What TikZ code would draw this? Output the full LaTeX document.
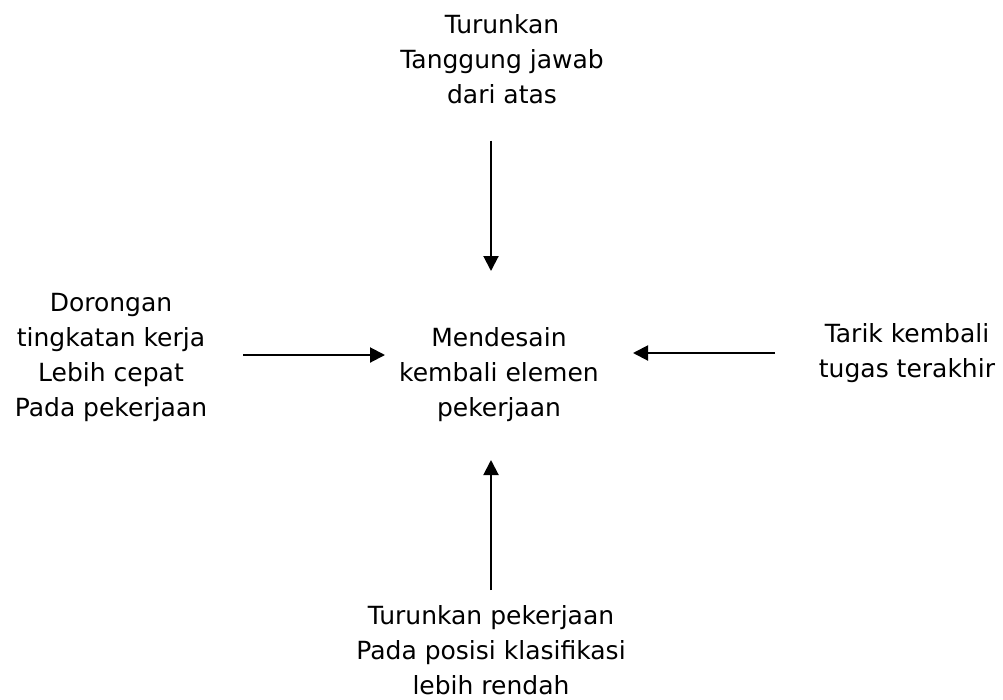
\documentclass[tikz,border=0pt]{standalone}
\usepackage{fontspec}
\usetikzlibrary{arrows.meta}
\newfontfamily\tahfont{DejaVu Sans}
\tikzset{
  lbl/.style={anchor=base, align=center, inner sep=0pt,
    font=\tahfont\fontsize{25pt}{35pt}\selectfont},
  arr/.style={line width=2pt, -{Triangle[length=15pt,width=15pt]}}
}
\begin{document}
\begin{tikzpicture}[x=1pt,y=-1pt]
\useasboundingbox (0,0) rectangle (1003,699);
\node[lbl] (top) at (502,103) {Turunkan\\Tanggung jawab\\dari atas};
\node[lbl] (left) at (111,416) {Dorongan\\tingkatan kerja\\Lebih cepat\\Pada pekerjaan};
\node[lbl] (center) at (499,416) {Mendesain\\kembali elemen\\pekerjaan};
\node[lbl] (right) at (907,377) {Tarik kembali\\tugas terakhir};
\node[lbl] (bottom) at (491,694) {Turunkan pekerjaan\\Pada posisi klasifikasi\\lebih rendah};
\coordinate (tA) at (491,140.5);
\coordinate (tB) at (491,271);
\coordinate (bA) at (491,590);
\coordinate (bB) at (491,460);
\coordinate (lA) at (243,355);
\coordinate (lB) at (385,355);
\coordinate (rA) at (775,353);
\coordinate (rB) at (633,353);
\draw[arr] (tA) -- (tB);
\draw[arr] (bA) -- (bB);
\draw[arr] (lA) -- (lB);
\draw[arr] (rA) -- (rB);
\end{tikzpicture}
\end{document}
